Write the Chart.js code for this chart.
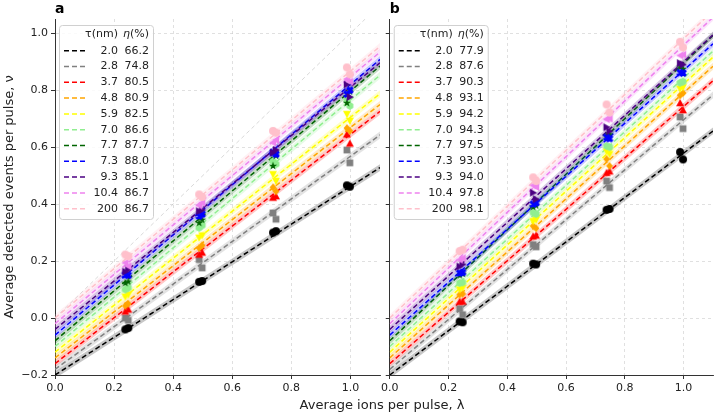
<!DOCTYPE html>
<html>
<head>
<meta charset="utf-8">
<script src="https://cdn.jsdelivr.net/npm/chart.js@4.4.1/dist/chart.umd.min.js"></script>
<style>
  html, body { margin: 0; padding: 0; background: #fff; }
  #wrap { position: relative; width: 718px; height: 414px; overflow: hidden; }
  #panelA { position: absolute; left: 0; top: 0; }
  #panelB { position: absolute; left: 378px; top: 0; }
  #xTitle {
    position: absolute; left: 382px; top: 397px; transform: translateX(-50%);
    font: 13px "DejaVu Sans", sans-serif; color: #222; white-space: nowrap;
  }
</style>
</head>
<body>
<div id="wrap">
  <canvas id="panelA" width="385" height="414"></canvas>
  <canvas id="panelB" width="340" height="414"></canvas>
  <div id="xTitle">Average ions per pulse, λ</div>
</div>
<script>
// 数据: 每条线的 τ、η 以及图中读出的偏移
const tauLabels = ['2.0', '2.8', '3.7', '4.8', '5.9', '7.0', '7.7', '7.3', '9.3', '10.4', '200'];
const etaA = [66.2, 74.8, 80.5, 80.9, 82.5, 86.6, 87.7, 88.0, 85.1, 86.7, 86.7];
const etaB = [77.9, 87.6, 90.3, 93.1, 94.2, 94.3, 97.5, 93.0, 94.0, 97.8, 98.1];
const lineOffsets = [-0.20, -0.18, -0.16, -0.14, -0.12, -0.10, -0.08, -0.06, -0.04, -0.02, 0.00];
const bandHalfWidth = 0.012;

const seriesColors = ['#000000', '#808080', '#ff0000', '#ffa500', '#ffff00', '#90ee90',
                      '#006400', '#0000ff', '#4b0082', '#ee82ee', '#ffc0cb'];
const markerShapes = ['o', 's', '^', 'D', 'v', 'h', '*', 'X', '>', '<', 'o'];

// 测量点的 λ (每个脉冲强度两次测量)
const lambdaPts = [0.238, 0.248, 0.488, 0.498, 0.738, 0.748, 0.988, 0.998];

// panel a 的测量值 ν
const nuA = [
  [-0.040, -0.035, 0.127, 0.130, 0.300, 0.305, 0.466, 0.461],
  [0.000, -0.008, 0.205, 0.176, 0.369, 0.347, 0.590, 0.545],
  [0.023, 0.030, 0.223, 0.230, 0.423, 0.428, 0.645, 0.613],
  [0.043, 0.050, 0.246, 0.255, 0.459, 0.445, 0.667, 0.657],
  [0.075, 0.082, 0.282, 0.290, 0.505, 0.481, 0.716, 0.692],
  [0.100, 0.106, 0.317, 0.325, 0.550, 0.540, 0.765, 0.745],
  [0.123, 0.128, 0.334, 0.345, 0.534, 0.570, 0.755, 0.795],
  [0.152, 0.150, 0.358, 0.365, 0.581, 0.575, 0.786, 0.800],
  [0.163, 0.170, 0.375, 0.380, 0.581, 0.590, 0.820, 0.776],
  [0.194, 0.182, 0.395, 0.405, 0.616, 0.625, 0.839, 0.830],
  [0.223, 0.217, 0.434, 0.425, 0.657, 0.651, 0.880, 0.856]
];

// panel b 的测量值 ν
const nuB = [
  [-0.012, -0.015, 0.191, 0.188, 0.380, 0.383, 0.583, 0.557],
  [0.033, 0.012, 0.258, 0.250, 0.481, 0.458, 0.706, 0.665],
  [0.058, 0.058, 0.287, 0.290, 0.510, 0.515, 0.755, 0.730],
  [0.082, 0.085, 0.323, 0.315, 0.558, 0.534, 0.782, 0.790],
  [0.100, 0.106, 0.340, 0.345, 0.585, 0.575, 0.805, 0.810],
  [0.123, 0.125, 0.370, 0.365, 0.604, 0.600, 0.826, 0.830],
  [0.150, 0.155, 0.390, 0.395, 0.640, 0.645, 0.880, 0.875],
  [0.158, 0.160, 0.400, 0.405, 0.635, 0.630, 0.862, 0.860],
  [0.181, 0.188, 0.440, 0.417, 0.670, 0.656, 0.895, 0.890],
  [0.205, 0.210, 0.466, 0.460, 0.698, 0.700, 0.922, 0.925],
  [0.235, 0.240, 0.494, 0.481, 0.750, 0.722, 0.970, 0.950]
];

const xMax = 1.1;
const FONT = '"DejaVu Sans", sans-serif';

function rgba(hex, a) {
  const n = parseInt(hex.slice(1), 16);
  return `rgba(${(n >> 16) & 255}, ${(n >> 8) & 255}, ${n & 255}, ${a})`;
}

// 画 matplotlib 风格的标记
function makeMarker(shape, color, r) {
  const size = Math.ceil(r * 2 + 2);
  const c = document.createElement('canvas');
  c.width = c.height = size;
  const g = c.getContext('2d');
  g.translate(size / 2, size / 2);
  g.fillStyle = color;
  g.beginPath();
  const poly = pts => { pts.forEach((p, i) => i ? g.lineTo(p[0], p[1]) : g.moveTo(p[0], p[1])); g.closePath(); };
  switch (shape) {
    case 'o': g.arc(0, 0, r, 0, Math.PI * 2); break;
    case 's': g.rect(-r * 0.85, -r * 0.85, r * 1.7, r * 1.7); break;
    case '^': poly([[0, -r], [r, r * 0.8], [-r, r * 0.8]]); break;
    case 'v': poly([[0, r], [r, -r * 0.8], [-r, -r * 0.8]]); break;
    case '>': poly([[r, 0], [-r * 0.8, r], [-r * 0.8, -r]]); break;
    case '<': poly([[-r, 0], [r * 0.8, r], [r * 0.8, -r]]); break;
    case 'D': poly([[0, -r], [r * 0.85, 0], [0, r], [-r * 0.85, 0]]); break;
    case 'h': {
      const pts = [];
      for (let k = 0; k < 6; k++) {
        const a = -Math.PI / 2 + k * Math.PI / 3;
        pts.push([r * Math.cos(a), r * Math.sin(a)]);
      }
      poly(pts);
      break;
    }
    case '*': {
      const pts = [];
      for (let k = 0; k < 10; k++) {
        const rad = k % 2 ? r * 0.42 : r * 1.1;
        const a = -Math.PI / 2 + k * Math.PI / 5;
        pts.push([rad * Math.cos(a), rad * Math.sin(a)]);
      }
      poly(pts);
      break;
    }
    case 'X': {
      // 四条臂加中心方块
      const w = r * 0.38;
      for (let k = 0; k < 4; k++) {
        g.save();
        g.rotate(Math.PI / 4 + k * Math.PI / 2);
        g.rect(0, -w, r, 2 * w);
        g.restore();
      }
      g.rect(-w, -w, 2 * w, 2 * w);
      break;
    }
  }
  g.fill();
  return c;
}

function buildDatasets(eta, nu, withDiagonal) {
  const ds = [];
  if (withDiagonal) {
    // ν = λ 参考线
    ds.push({
      data: [{ x: 0, y: 0 }, { x: xMax, y: xMax }],
      borderColor: 'rgba(160,160,160,0.45)', borderWidth: 0.9, borderDash: [4, 3],
      pointRadius: 0, fill: false, order: 200
    });
  }
  eta.forEach((e, i) => {
    const m = e / 100, b = lineOffsets[i], col = seriesColors[i];
    const lowIdx = ds.length;
    // 置信带下沿
    ds.push({
      data: [{ x: 0, y: b - bandHalfWidth }, { x: xMax, y: b + m * xMax - bandHalfWidth }],
      borderWidth: 0, pointRadius: 0, fill: false, order: 100 + 2 * (10 - i) + 1
    });
    // 置信带上沿
    ds.push({
      data: [{ x: 0, y: b + bandHalfWidth }, { x: xMax, y: b + m * xMax + bandHalfWidth }],
      borderWidth: 0, pointRadius: 0, fill: lowIdx, backgroundColor: rgba(col, 0.22),
      order: 100 + 2 * (10 - i) + 1
    });
    // 拟合线
    ds.push({
      data: [{ x: 0, y: b }, { x: xMax, y: b + m * xMax }],
      borderColor: col, borderWidth: 1.5, borderDash: [5, 3],
      pointRadius: 0, fill: false, order: 100 + 2 * (10 - i)
    });
    // 测量点
    ds.push({
      data: lambdaPts.map((l, k) => ({ x: l, y: nu[i][k] })),
      showLine: false, pointStyle: makeMarker(markerShapes[i], col, 4),
      pointRadius: 4, fill: false, order: 10 - i
    });
  });
  return ds;
}

const fmtTick = v => (Math.abs(v) < 1e-9 ? '0.0' : v.toFixed(1).replace('-', '\u2212'));

// 自定义图例 (τ, η 两列) 与面板标签
const tauLegendPlugin = {
  id: 'tauLegend',
  afterDraw(chart, args, opts) {
    const ctx = chart.ctx, area = chart.chartArea;
    const x0 = area.left + 4, y0 = area.top + 6, w = 94, h = 194;
    ctx.save();
    ctx.fillStyle = 'rgba(255,255,255,0.85)';
    ctx.strokeStyle = '#d0d0d0';
    ctx.lineWidth = 1;
    ctx.beginPath();
    ctx.roundRect(x0 + 0.5, y0 + 0.5, w, h, 3);
    ctx.fill();
    ctx.stroke();

    ctx.fillStyle = '#222';
    ctx.textBaseline = 'middle';
    ctx.textAlign = 'right';
    ctx.font = `11px ${FONT}`;
    const col1 = x0 + 59, col2 = x0 + 90;
    const hy = y0 + 9.5;
    ctx.fillText('τ(nm)', col1, hy);
    const pw = ctx.measureText('(%)').width;
    ctx.fillText('(%)', col2, hy);
    ctx.font = `italic 11px ${FONT}`;
    ctx.fillText('η', col2 - pw, hy);
    ctx.font = `11px ${FONT}`;

    opts.eta.forEach((e, i) => {
      const y = y0 + 25.7 + 15.8 * i;
      ctx.strokeStyle = seriesColors[i];
      ctx.lineWidth = 1.5;
      ctx.setLineDash([5, 3]);
      ctx.beginPath();
      ctx.moveTo(x0 + 5, y);
      ctx.lineTo(x0 + 27, y);
      ctx.stroke();
      ctx.setLineDash([]);
      ctx.fillStyle = '#222';
      ctx.fillText(tauLabels[i], col1, y);
      ctx.fillText(e.toFixed(1), col2, y);
    });

    ctx.font = `bold 14px ${FONT}`;
    ctx.textAlign = 'left';
    ctx.textBaseline = 'alphabetic';
    ctx.fillStyle = '#000';
    ctx.fillText(opts.label, area.left, area.top - 6);
    ctx.restore();
  }
};

function makeChart(canvasId, eta, nu, label, isLeft) {
  const gridOpts = {
    color: 'rgba(200,200,200,0.7)', lineWidth: 0.8,
    tickColor: '#333', tickLength: 4, tickWidth: 1
  };
  const borderOpts = { color: '#333', width: 1, dash: [3, 3] };
  return new Chart(document.getElementById(canvasId), {
    type: 'line',
    data: { datasets: buildDatasets(eta, nu, isLeft) },
    options: {
      responsive: false,
      animation: false,
      events: [],
      layout: { padding: { top: 19, right: isLeft ? 2 : 1, left: 0, bottom: 0 } },
      plugins: {
        legend: { display: false },
        tooltip: { enabled: false },
        tauLegend: { eta: eta, label: label }
      },
      scales: {
        x: {
          type: 'linear', min: 0, max: xMax,
          ticks: { stepSize: 0.2, includeBounds: false, callback: fmtTick,
                   color: '#222', font: { family: FONT, size: 11 }, padding: 3, maxRotation: 0 },
          grid: gridOpts, border: borderOpts,
          afterFit: s => { s.height = 39; }
        },
        y: {
          type: 'linear', min: -0.2, max: 1.05,
          ticks: { stepSize: 0.2, includeBounds: false, callback: fmtTick, display: isLeft,
                   color: '#222', font: { family: FONT, size: 11 }, padding: 3 },
          grid: gridOpts, border: borderOpts,
          title: isLeft ? { display: true, text: 'Average detected events per pulse, ν',
                            color: '#222', font: { family: FONT, size: 13 }, padding: 2 } : { display: false },
          afterFit: s => { s.width = isLeft ? 55 : 7; }
        }
      }
    },
    plugins: [tauLegendPlugin]
  });
}

makeChart('panelA', etaA, nuA, 'a', true);
makeChart('panelB', etaB, nuB, 'b', false);
</script>
</body>
</html>
